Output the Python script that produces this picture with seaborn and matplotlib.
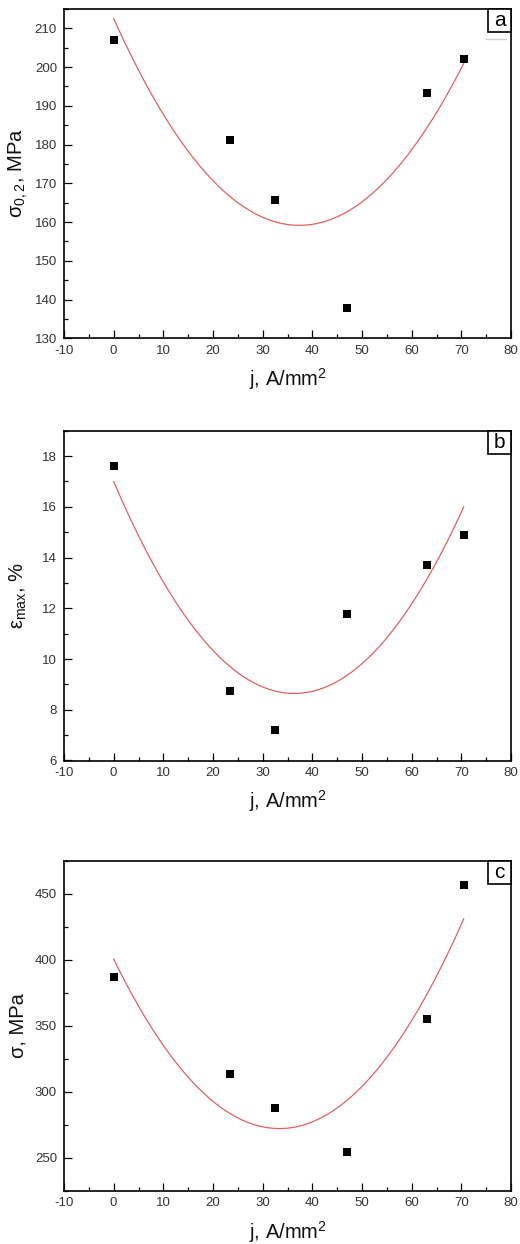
import numpy as np
import pandas as pd
import matplotlib
matplotlib.use("Agg")
import matplotlib.pyplot as plt
import seaborn as sns
from matplotlib.ticker import MultipleLocator
from matplotlib.patches import Rectangle

# ---- data ----
j = [0, 23.5, 32.5, 47, 63, 70.5]
sigma02 = [207.0, 181.3, 165.7, 137.7, 193.3, 202.0]
eps_max = [17.6, 8.72, 7.22, 11.78, 13.70, 14.90]
sigma_u = [387.5, 313.5, 287.8, 254.5, 355.0, 457.0]

panel_letters = ["a", "b", "c"]
ylabels = ["σ$_{0,2}$, MPa", "ε$_{\\mathrm{max}}$, %", "σ, MPa"]
ylims = [(130, 215), (6, 19), (225, 475)]
ymajor = [10, 2, 50]
yminor = [5, 1, 25]
xlabel = "j, A/mm$^2$"

sns.set_theme(style="ticks")
plt.rcParams["font.family"] = ["Liberation Sans", "DejaVu Sans"]
plt.rcParams["mathtext.fontset"] = "custom"
plt.rcParams["mathtext.rm"] = "Liberation Sans"
plt.rcParams["mathtext.it"] = "Liberation Sans:italic"
plt.rcParams["mathtext.bf"] = "Liberation Sans:bold"
plt.rcParams["axes.unicode_minus"] = False

W, H = 520, 1244
fig = plt.figure(figsize=(W / 100, H / 100), dpi=100)

# axes boxes in pixels: (left, top, right, bottom)
boxes = [(64, 9, 511, 338.3), (64, 430.7, 511, 760.5), (64, 861, 511, 1191)]
series = [sigma02, eps_max, sigma_u]

for k, (l, t, r, b) in enumerate(boxes):
    ax = fig.add_axes([l / W, 1 - b / H, (r - l) / W, (b - t) / H])
    df = pd.DataFrame({"j": j, "y": series[k]})
    sns.regplot(data=df, x="j", y="y", order=2, ci=None, scatter=False,
                truncate=True, ax=ax,
                line_kws=dict(color="#e06060", lw=0.9))
    sns.scatterplot(data=df, x="j", y="y", ax=ax, marker="s", s=30,
                    color="black", edgecolor="black", linewidth=0, zorder=5)
    ax.set_xlim(-10, 80)
    ax.set_ylim(*ylims[k])
    ax.xaxis.set_major_locator(MultipleLocator(10))
    ax.xaxis.set_minor_locator(MultipleLocator(5))
    ax.yaxis.set_major_locator(MultipleLocator(ymajor[k]))
    ax.yaxis.set_minor_locator(MultipleLocator(yminor[k]))
    ax.tick_params(which="both", direction="in", top=False, right=False,
                   width=0.9, color="black")
    ax.tick_params(which="major", length=5.5, labelsize=9.5, labelcolor="#333333")
    ax.tick_params(axis="x", which="major", pad=4.5)
    ax.tick_params(axis="y", which="major", pad=5)
    ax.tick_params(which="minor", length=3)
    for sp in ax.spines.values():
        sp.set_linewidth(1.2)
        sp.set_color("black")
    ax.set_xlabel(xlabel, fontsize=14.5, color="#111111", va="top")
    ax.xaxis.set_label_coords(0.5, -0.085)
    ax.set_ylabel(ylabels[k], fontsize=14.5, color="#111111", va="center")
    ax.yaxis.set_label_coords(-0.103, 0.5)
    # panel letter box in the upper right corner
    bw, bh = 23 / (r - l), 23 / (b - t)
    ax.add_patch(Rectangle((1 - bw, 1 - bh), bw, bh, transform=ax.transAxes,
                           fc="white", ec="black", lw=1.2, zorder=6, clip_on=False))
    ax.text(1 - bw / 2, 1 - bh / 2, panel_letters[k], transform=ax.transAxes,
            ha="center", va="center", fontsize=15, color="black", zorder=7)
    if k == 0:
        ax.plot([0.944, 0.989], [0.91, 0.91], transform=ax.transAxes,
                color="#cccccc", lw=1)

fig.savefig("out.png", dpi=100)
